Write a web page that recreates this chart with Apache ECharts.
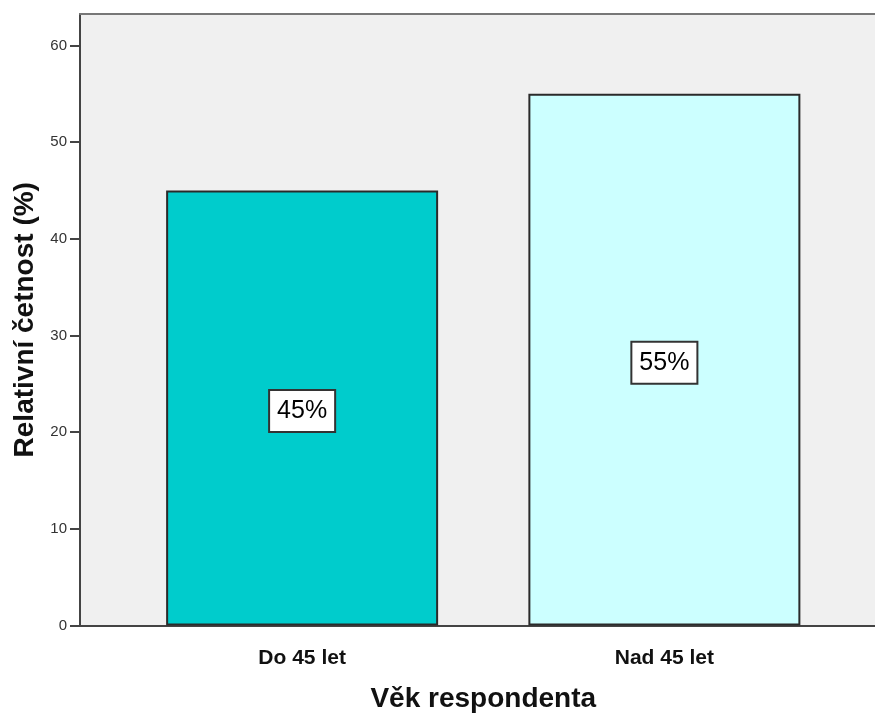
<!DOCTYPE html>
<html>
<head>
<meta charset="utf-8">
<script src="https://cdn.jsdelivr.net/npm/echarts@6/dist/echarts.min.js"></script>
<style>
  html, body { margin: 0; padding: 0; background: #fff; }
  #chart { width: 875px; height: 715px; }
</style>
</head>
<body>
<div id="chart"></div>
<script>
const categories = ['Do 45 let', 'Nad 45 let'];
const values = [45, 55];
const barColors = ['#00cccc', '#ccffff'];
const yTicks = [0, 10, 20, 30, 40, 50, 60];

const chartDom = document.getElementById('chart');
const myChart = echarts.init(chartDom, null, { renderer: 'canvas' });

const font = 'Liberation Sans, Arial, sans-serif';
const yMax = 63.26;

const option = {
  backgroundColor: '#ffffff',
  grid: [
    // plot frame with grey background
    { left: 80, right: 0, top: 14, bottom: 89.5, show: true, backgroundColor: '#f0f0f0', borderWidth: 0, outerBoundsMode: 'none', containLabel: false },
    // bars
    { left: 121, right: 29.5, top: 14, bottom: 89.5, outerBoundsMode: 'none', containLabel: false }
  ],
  xAxis: [
    {
      gridIndex: 0, type: 'value', min: 0, max: 1, position: 'bottom',
      axisLine: { show: true, lineStyle: { color: '#444', width: 2 } },
      axisTick: { show: false }, axisLabel: { show: false }, splitLine: { show: false }
    },
    {
      gridIndex: 0, type: 'value', min: 0, max: 1, position: 'top',
      axisLine: { show: true, lineStyle: { color: '#777', width: 2 } },
      axisTick: { show: false }, axisLabel: { show: false }, splitLine: { show: false }
    },
    {
      gridIndex: 1, type: 'category', data: categories,
      axisLine: { show: false }, axisTick: { show: false },
      axisLabel: { color: '#111', fontSize: 21, fontWeight: 'bold', fontFamily: font, margin: 22 },
      name: 'Věk respondenta', nameLocation: 'middle', nameGap: 60,
      nameTextStyle: { color: '#111', fontSize: 28, fontWeight: 'bold', fontFamily: font }
    }
  ],
  yAxis: [
    {
      gridIndex: 0, type: 'value', min: 0, max: yMax,
      axisLine: { show: true, lineStyle: { color: '#444', width: 2 } },
      axisTick: { show: true, length: 10, customValues: yTicks, lineStyle: { color: '#444', width: 2 } },
      axisLabel: { color: '#333', fontSize: 15, fontFamily: font, margin: 13, customValues: yTicks },
      splitLine: { show: false },
      name: 'Relativní četnost (%)', nameLocation: 'middle', nameGap: 40,
      nameTextStyle: { color: '#111', fontSize: 28, fontWeight: 'bold', fontFamily: font }
    },
    {
      gridIndex: 1, type: 'value', min: 0, max: yMax, show: false
    }
  ],
  series: [
    {
      type: 'bar',
      xAxisIndex: 2,
      yAxisIndex: 1,
      barWidth: 272,
      data: values.map(function (v, i) {
        return { value: v, itemStyle: { color: barColors[i] } };
      }),
      itemStyle: { borderColor: '#2a2a2a', borderWidth: 2 },
      label: {
        show: true,
        position: 'inside',
        offset: [0, 3],
        formatter: '{c}%',
        color: '#000',
        fontSize: 25,
        lineHeight: 25,
        fontFamily: font,
        backgroundColor: '#fff',
        borderColor: '#333',
        borderWidth: 2,
        padding: [8, 7, 7, 7]
      }
    }
  ]
};

option && myChart.setOption(option);
</script>
</body>
</html>
